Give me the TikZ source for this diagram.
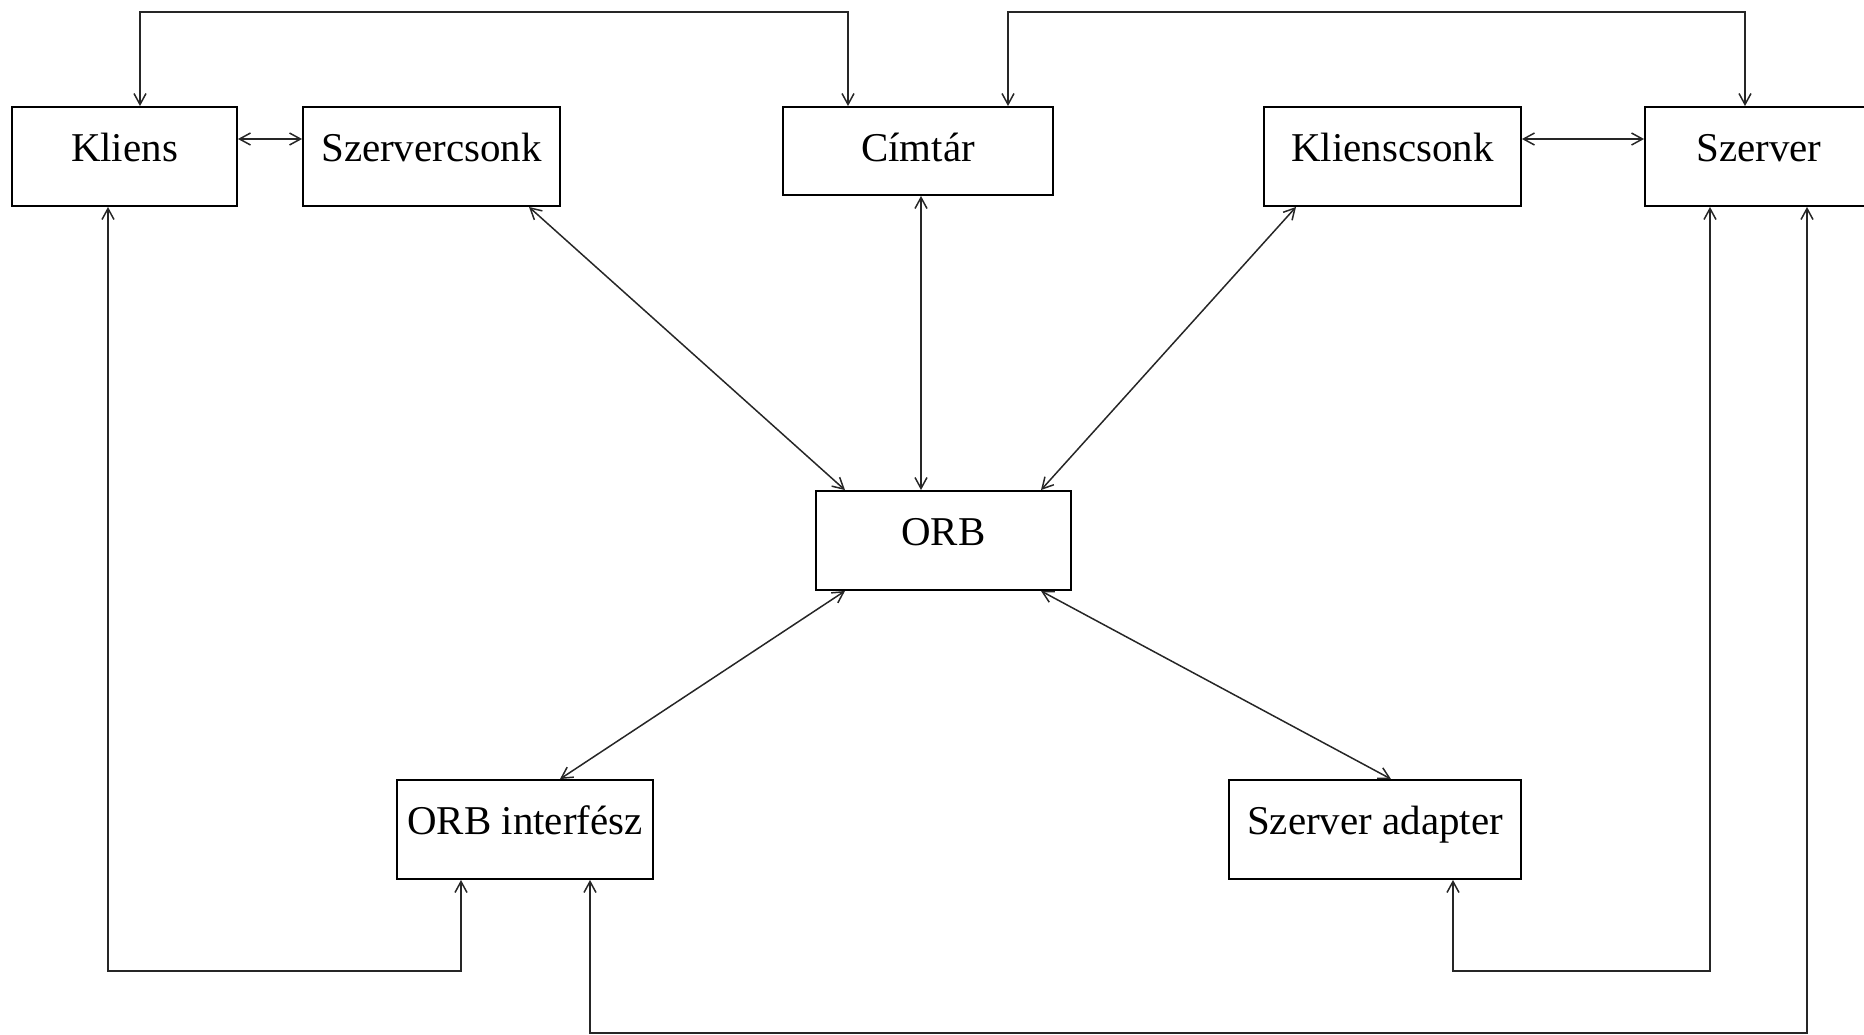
\documentclass[tikz,border=0pt]{standalone}
\usepackage{fontspec}
\setmainfont{Liberation Serif}
\usetikzlibrary{arrows.meta}
\begin{document}
\begin{tikzpicture}[x=0.02cm,y=-0.02cm,
  box/.style={draw=black, line width=1.1pt, fill=white, inner sep=0pt,
    font=\fontsize{23.3pt}{26pt}\selectfont, text height=0.46cm, text depth=0.26cm},
  link/.style={draw=black!85, line width=0.85pt, >={Straight Barb[length=0.22cm,width=0.24cm]}, <->}]
\useasboundingbox (0,0) rectangle (1864,1035);
\node[box, minimum width=4.5cm, minimum height=1.98cm] (kl) at (124.5,156.5) {Kliens};
\node[box, minimum width=5.14cm, minimum height=1.98cm] (sc) at (431.5,156.5) {Szervercsonk};
\node[box, minimum width=5.4cm, minimum height=1.76cm, text height=0.46cm, text depth=0.04cm] (ct) at (918,151) {Címtár};
\node[box, minimum width=5.14cm, minimum height=1.98cm] (kc) at (1392.5,156.5) {Klienscsonk};
\node[box, minimum width=4.56cm, minimum height=1.98cm] (sz) at (1759,156.5) {Szerver};
\node[box, minimum width=5.1cm, minimum height=1.98cm] (orb) at (943.5,540.5) {ORB};
\node[box, minimum width=5.12cm, minimum height=1.98cm] (oi) at (525,829.5) {ORB interfész};
\node[box, minimum width=5.84cm, minimum height=1.98cm] (sa) at (1375,829.5) {Szerver adapter};
% top routes
\draw[link] (140,0 |- kl.north) |- (848,12) -- (848,0 |- ct.north);
\draw[link] (1008,0 |- ct.north) |- (1745,12) -- (1745,0 |- sz.north);
% horizontal pairs
\draw[link] (kl.east |- 0,139) -- (sc.west |- 0,139);
\draw[link] (kc.east |- 0,139) -- (sz.west |- 0,139);
% to ORB
\draw[link] (529,0 |- sc.south) -- (845,0 |- orb.north);
\draw[link] (921,0 |- ct.south) -- (921,0 |- orb.north);
\draw[link] (1296,0 |- kc.south) -- (1041,0 |- orb.north);
\draw[link] (845,0 |- orb.south) -- (560,0 |- oi.north);
\draw[link] (1041,0 |- orb.south) -- (1391,0 |- sa.north);
% bottom routes
\draw[link] (108,0 |- kl.south) |- (461,971) -- (461,0 |- oi.south);
\draw[link] (590,0 |- oi.south) |- (1807,1033) -- (1807,0 |- sz.south);
\draw[link] (1453,0 |- sa.south) |- (1710,971) -- (1710,0 |- sz.south);
\end{tikzpicture}
\end{document}
